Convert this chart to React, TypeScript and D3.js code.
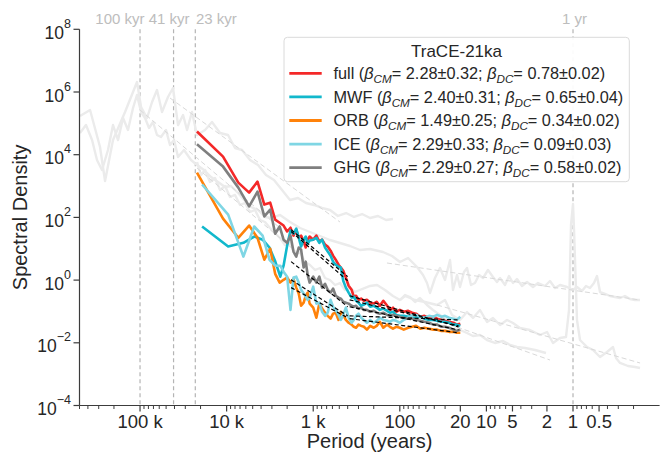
import React from "react";
import * as d3 from "d3";

// ---------- DATA ----------
// period grid (years) for the full / ORB / GHG TraCE runs
const periodsTraCE = [22000, 11000, 7330, 5500, 4400, 3670, 3140, 2750, 2440,
  2200, 2000, 1830, 1690, 1570, 1470, 1380, 1290, 1220, 1160, 1100, 1000, 920, 850, 790, 730, 680, 630, 590, 550, 510,
  480, 450, 420, 390, 360, 340, 320, 300, 280, 260, 240, 220, 200, 185, 170, 155, 140, 130, 120, 110, 100, 90, 80, 72,
  65, 58, 52, 46, 41, 37, 33, 30, 27, 24, 22, 20];
// period grid (years) for the MWF / ICE runs
const periodsMelt = [19200, 9600, 6400, 4800, 3840, 3200, 2740, 2400,
  2200, 2000, 1830, 1690, 1570, 1470, 1380, 1290, 1220, 1160, 1100, 1000, 920, 850, 790, 730, 680, 630, 590, 550, 510,
  480, 450, 420, 390, 360, 340, 320, 300, 280, 260, 240, 220, 200, 185, 170, 155, 140, 130, 120, 110, 100, 90, 80, 72,
  65, 58, 52, 46, 41, 37, 33, 30, 27, 24, 22, 20];

// log10 spectral density
const logFull = [4.74, 3.94, 3.11, 2.79, 3.14, 2.41, 2.47, 1.93, 1.83,
  1.74, 1.55, 1.67, 1.42, 1.61, 1.35, 1.42, 1.23, 1.04, 1.29, 1.39, 1.29, 1.42, 1.23, 1.29, 1.13, 1.07, 0.94, 0.78, 0.65,
  0.49, 0.40, 0.30, 0.08, -0.18, -0.31, -0.53, -0.50, -0.63, -0.59, -0.66, -0.63, -0.72, -0.75, -0.69, -0.82, -0.66,
  -0.82, -0.95, -0.88, -1.01, -0.95, -1.01, -0.98, -1.04, -1.07, -1.17, -1.14, -1.20, -1.17, -1.23, -1.27, -1.30, -1.33,
  -1.36, -1.42, -1.39];
const logMWF = [1.71, 1.07, 1.19, 1.39, 1.29, 1.04, 0.59, 0.11,
  0.46, 1.10, 1.58, 1.48, 1.64, 1.35, 1.07, 1.29, 1.39, 1.16, 1.26, 1.29, 1.35, 1.19, 1.29, 1.04, 0.91, 0.78, 0.59, 0.49,
  0.43, 0.40, -0.02, -0.24, -0.40, -0.56, -0.53, -0.66, -0.72, -0.82, -0.78, -0.72, -0.85, -0.82, -0.88, -0.95, -0.91,
  -0.98, -1.04, -1.01, -1.11, -1.14, -1.14, -1.17, -1.14, -1.20, -1.17, -1.23, -1.27, -1.27, -1.30, -1.33, -1.33, -1.36,
  -1.42, -1.42, -1.46];
const logORB = [3.43, 1.96, 1.35, 1.74, 1.35, 0.65, 1.00, 0.20, -0.08,
  0.01, 0.08, -0.08, 0.04, -0.24, -0.43, -0.82, -0.72, -0.50, -0.40, -0.75, -0.88, -1.20, -0.75, -0.91, -1.04, -1.14,
  -1.23, -1.07, -1.04, -1.27, -1.01, -1.11, -1.27, -1.36, -1.42, -1.49, -1.52, -1.42, -1.46, -1.49, -1.58, -1.46, -1.52,
  -1.46, -1.33, -1.52, -1.42, -1.49, -1.55, -1.49, -1.52, -1.58, -1.52, -1.49, -1.46, -1.55, -1.52, -1.55, -1.58, -1.58,
  -1.62, -1.62, -1.65, -1.65, -1.68, -1.68];
const logICE = [3.05, 2.09, 0.75, 1.71, 1.42, 0.65, 0.46, 0.46,
  0.27, 0.11, -0.95, 0.08, 0.11, -0.08, -0.31, -0.43, -0.53, -0.63, -0.56, -0.21, -0.75, -0.72, -1.01, -1.14, -1.04,
  -0.63, -0.85, -0.95, -1.11, -1.27, -1.11, -0.88, -1.20, -1.36, -1.27, -1.14, -1.07, -1.20, -1.27, -1.36, -1.27, -1.36,
  -1.30, -1.20, -1.27, -1.30, -1.33, -1.27, -1.30, -1.36, -1.27, -1.20, -1.14, -1.11, -1.17, -1.20, -1.14, -1.17, -1.11,
  -1.17, -1.14, -1.20, -1.23, -1.27, -1.17];
const logGHG = [4.33, 3.62, 2.95, 2.35, 2.82, 2.03, 2.25, 1.48, 1.71,
  1.29, 1.19, 1.42, 0.91, 0.75, 1.04, 0.97, 0.40, 0.59, 0.17, -0.08, 0.11, -0.08, 0.11, -0.24, -0.12, -0.31, -0.40,
  -0.27, -0.50, -0.56, -0.59, -0.69, -0.72, -0.75, -0.82, -0.85, -0.82, -0.91, -0.88, -0.95, -0.95, -1.01, -0.98, -1.04,
  -1.07, -1.04, -1.11, -1.14, -1.11, -1.14, -1.17, -1.20, -1.23, -1.23, -1.27, -1.30, -1.33, -1.36, -1.42, -1.42, -1.49,
  -1.49, -1.52, -1.58, -1.62, -1.58];

const seriesNames = ["full", "MWF", "ORB", "ICE", "GHG"];
const seriesColors = ["#f42828", "#12b8cc", "#ff820a", "#7fd6e4", "#7f7f7f"];
const betaCM = ["2.28±0.32", "2.40±0.31", "1.49±0.25", "2.29±0.33", "2.29±0.27"];
const betaDC = ["0.78±0.02", "0.65±0.04", "0.34±0.02", "0.09±0.03", "0.58±0.02"];

// power-law fits (period ranges in years, log10 density at the ends), series order as above
const fitCMPeriods = [1800, 400];
const fitDCPeriods = [380, 21];
const fitCMStart = [1.61, 1.55, -0.24, 0.01, 0.59];
const fitCMEnd = [0.11, -0.02, -1.20, -1.14, -0.85];
const fitDCStart = [-0.50, -0.63, -1.23, -1.14, -0.85];
const fitDCEnd = [-1.49, -1.46, -1.68, -1.27, -1.59];

// background (grey) spectra: log10 period, log10 density
const proxyALogP = [5.693, 5.577, 5.462, 5.404, 5.312, 5.173, 5.035, 4.988, 4.919, 4.861, 4.804, 4.746, 4.677, 4.619,
  4.561, 4.503, 4.457, 4.400, 4.342, 4.249, 4.169, 4.076, 3.984, 3.903, 3.822, 3.730, 3.637, 3.545, 3.453, 3.360, 3.268,
  3.176, 3.083, 2.991, 2.898, 2.806, 2.714, 2.621, 2.529, 2.436, 2.344, 2.252, 2.159, 2.079];
const proxyALogPSD = [5.234, 5.426, 4.246, 3.161, 4.469, 5.362, 6.319, 5.522, 5.171, 5.681, 6.064, 5.362, 5.841, 6.128,
  4.944, 5.266, 4.788, 5.362, 4.629, 4.788, 5.043, 4.692, 4.629, 4.214, 4.150, 3.831, 3.671, 3.352, 3.193, 2.874, 2.555,
  2.619, 2.459, 2.396, 2.300, 2.236, 2.045, 2.140, 2.013, 2.108, 1.982, 2.045, 1.917, 1.949];

const proxyBLogP = [5.693, 5.624, 5.554, 5.497, 5.439, 5.370, 5.312, 5.254, 5.196, 5.139, 5.081, 5.035, 4.988, 4.942,
  4.896, 4.850, 4.804, 4.758, 4.700, 4.654, 4.607, 4.561, 4.492, 4.411, 4.342, 4.261, 4.180, 4.099, 4.018, 3.949, 3.868,
  3.799, 3.718, 3.637, 3.557, 3.476, 3.383, 3.268, 3.152, 3.037, 2.921, 2.806, 2.691, 2.575, 2.460, 2.344, 2.194, 2.090,
  1.998, 1.905, 1.801, 1.732, 1.686, 1.651, 1.594, 1.536, 1.478, 1.420, 1.386, 1.339, 1.305, 1.259, 1.224, 1.178, 1.132,
  1.085, 1.039, 0.982, 0.924, 0.878, 0.843, 0.785, 0.739, 0.693, 0.647, 0.589, 0.531, 0.462, 0.404, 0.323, 0.266, 0.208,
  0.150, 0.069, 0.000, -0.046, -0.104, -0.150, -0.196, -0.242, -0.277, -0.312, -0.370, -0.427, -0.485, -0.543, -0.600,
  -0.658, -0.716, -0.774];
const proxyBLogPSD = [4.692, 4.947, 4.469, 3.831, 3.512, 4.150, 4.947, 4.469, 5.171, 4.788, 5.490, 5.904, 5.362, 5.171,
  4.852, 5.043, 4.629, 4.565, 4.788, 4.309, 4.469, 3.927, 4.150, 3.831, 3.671, 3.512, 3.289, 3.129, 2.970, 3.001, 2.778,
  2.555, 2.332, 2.236, 2.013, 1.981, 2.077, 1.853, 1.662, 1.534, 1.407, 1.279, 1.183, 1.088, 0.960, 0.992, 0.896, 0.769,
  0.577, 0.705, 0.418, 0.163, -0.093, -0.411, 0.067, 0.386, 0.003, 0.641, -0.316, 0.163, -0.220, 0.258, 0.386, -0.156,
  -0.093, 0.163, 0.067, 0.322, 0.099, -0.061, 0.067, -0.156, 0.131, -0.093, 0.035, -0.188, -0.061, -0.220, -0.093,
  -0.188, -0.029, -0.252, -0.156, -0.220, -0.316, -0.220, -0.348, -0.188, -0.252, -0.093, 0.131, -0.380, -0.443, -0.507,
  -0.539, -0.571, -0.507, -0.603, -0.635, -0.635];

const proxyCLogP = [4.342, 4.296, 4.249, 4.192, 4.134, 4.076, 4.018, 3.961, 3.903, 3.845, 3.788, 3.730, 3.672, 3.614,
  3.557, 3.499, 3.441, 3.383, 3.326, 3.268, 3.210, 3.152, 3.095, 3.037, 2.979, 2.921, 2.864, 2.806, 2.748, 2.691, 2.633,
  2.575, 2.517, 2.436, 2.344, 2.263, 2.171, 2.079, 1.998, 1.940, 1.882, 1.824, 1.767, 1.686, 1.617, 1.536, 1.455, 1.386,
  1.305, 1.224, 1.155, 1.074, 0.993, 0.901, 0.808, 0.727, 0.647, 0.554, 0.439, 0.312];
const proxyCLogPSD = [3.767, 3.352, 3.512, 3.129, 3.257, 2.874, 3.001, 2.651, 2.715, 2.396, 2.459, 2.172, 2.236, 1.917,
  1.853, 1.662, 1.502, 1.343, 1.120, 1.183, 0.801, 0.897, 0.577, 0.482, 0.322, 0.386, 0.067, 0.003, -0.156, -0.093,
  -0.316, -0.252, -0.380, -0.284, -0.188, -0.156, -0.316, -0.507, -0.635, -0.475, -0.539, -0.699, -0.571, -0.794, -0.954,
  -1.113, -1.273, -1.432, -1.592, -1.687, -1.783, -1.751, -1.911, -2.006, -1.943, -2.070, -2.134, -2.166, -2.230, -2.325];

const proxyDLogP = [1.998, 1.940, 1.824, 1.709, 1.570, 1.478, 1.397, 1.305, 1.224, 1.155, 1.074, 0.993, 0.924, 0.843,
  0.762, 0.693, 0.612, 0.497, 0.381, 0.300, 0.231, 0.150, 0.081, 0.046, 0.023, 0.000, -0.012, -0.046, -0.081, -0.162,
  -0.231, -0.312, -0.393, -0.462, -0.497, -0.543, -0.635, -0.716, -0.774];
const proxyDLogPSD = [-0.635, -0.507, -0.635, -0.699, -0.794, -0.635, -1.113, -1.273, -1.018, -1.209, -0.954, -1.337,
  -1.209, -1.432, -1.273, -1.369, -1.528, -1.592, -1.751, -1.656, -2.006, -1.847, -1.815, -0.954, 1.758, 2.427, 1.598,
  -1.273, -1.911, -2.134, -2.230, -2.453, -2.293, -2.134, -2.485, -2.644, -2.740, -2.772, -2.804];

// grey dashed fits on background spectra: [start, end] in log10 period / log10 density
const proxyFitLogP = [[2.148, -0.774], [1.570, -0.774], [1.339, 0.266], [4.654, 2.691], [5.0, 3.383], [4.342, 3.152]];
const proxyFitLogPSD = [[0.545, -0.635], [-0.794, -2.644], [-1.496, -2.549], [5.809, 1.853], [5.426, 1.662], [3.576, 0.801]];

const markerPeriods = [100000, 41000, 23000, 1];
const markerLabels = ["100 kyr", "41 kyr", "23 kyr", "1 yr"];

const xTickValues = [1e5, 1e4, 1e3, 100, 20, 10, 5, 2, 1, 0.5];
const xTickLabels = ["100 k", "10 k", "1 k", "100", "20", "10", "5", "2", "1", "0.5"];
const yTickExponents = [-4, -2, 0, 2, 4, 6, 8];

// ---------- CHART ----------
const FONT = "'Liberation Sans', Arial, Helvetica, sans-serif";

export default function App() {
  const W = 666, H = 454;
  const left = 79.5, right = 659.6, top = 29.3, bottom = 405.5;
  const x = d3.scaleLog().domain([5e5, 0.1]).range([left, right]);
  const y = d3.scaleLog().domain([1e-4, 1e8]).range([bottom, top]);
  const line = d3.line<[number, number]>().x((d) => x(d[0])).y((d) => y(d[1]));

  const fromGrid = (periods: number[], logs: number[]) =>
    logs.map((v, i) => [periods[i], Math.pow(10, v)] as [number, number]);
  const fromLog = (lp: number[], lv: number[]) =>
    lv.map((v, i) => [Math.pow(10, lp[i]), Math.pow(10, v)] as [number, number]);

  const seriesData = [
    fromGrid(periodsTraCE, logFull),
    fromGrid(periodsMelt, logMWF),
    fromGrid(periodsTraCE, logORB),
    fromGrid(periodsMelt, logICE),
    fromGrid(periodsTraCE, logGHG),
  ];
  const proxies = [
    fromLog(proxyALogP, proxyALogPSD),
    fromLog(proxyBLogP, proxyBLogPSD),
    fromLog(proxyCLogP, proxyCLogPSD),
    fromLog(proxyDLogP, proxyDLogPSD),
  ];

  // minor ticks on x
  const minor: number[] = [];
  for (let e = -1; e <= 5; e++) {
    for (let d = 1; d <= 9; d++) {
      const v = d * Math.pow(10, e);
      if (v > 0.1 && v <= 5e5 && !xTickValues.some((t) => Math.abs(t - v) / v < 1e-6)) minor.push(v);
    }
  }

  const axisColor = "#3c3c3c";
  const textColor = "#262626";

  return (
    <svg width={W} height={H} style={{ position: "absolute", left: 0, top: 0 }} fontFamily={FONT}>
      <rect x={0} y={0} width={W} height={H} fill="#ffffff" />

      {/* vertical marker lines */}
      {markerPeriods.map((p, i) => (
        <line key={"m" + i} x1={x(p)} x2={x(p)} y1={top} y2={bottom} stroke="#b4b4b4" strokeWidth={1.2} strokeDasharray="4,3" />
      ))}
      {markerLabels.map((t, i) => {
        const px = x(markerPeriods[i]);
        const anchor = i === 0 ? "end" : i === 2 ? "start" : "middle";
        const dx = i === 0 ? 4.5 : i === 1 ? -4.5 : i === 2 ? 0.7 : 1.5;
        return (
          <text key={"ml" + i} x={px + dx} y={24} fontSize={15} fill="#bdbdbd" textAnchor={anchor}>{t}</text>
        );
      })}

      {/* background spectra */}
      {proxies.map((pts, i) => (
        <path key={"p" + i} d={line(pts) || ""} fill="none" stroke="#ebebeb" strokeWidth={2.4} strokeLinejoin="round" />
      ))}
      {proxyFitLogP.map((lp, i) => (
        <path key={"pf" + i}
          d={line([[Math.pow(10, lp[0]), Math.pow(10, proxyFitLogPSD[i][0])], [Math.pow(10, lp[1]), Math.pow(10, proxyFitLogPSD[i][1])]]) || ""}
          fill="none" stroke="#d9d9d9" strokeWidth={1} strokeDasharray="5,3" />
      ))}

      {/* TraCE spectra */}
      {seriesData.map((pts, i) => (
        <path key={"s" + i} d={line(pts) || ""} fill="none" stroke={seriesColors[i]} strokeWidth={2.6} strokeLinejoin="round" />
      ))}

      {/* power-law fits */}
      {seriesNames.map((_, i) => (
        <g key={"f" + i}>
          <path d={line([[fitCMPeriods[0], Math.pow(10, fitCMStart[i])], [fitCMPeriods[1], Math.pow(10, fitCMEnd[i])]]) || ""}
            fill="none" stroke="#000" strokeWidth={1.2} strokeDasharray="4,2.5" />
          <path d={line([[fitDCPeriods[0], Math.pow(10, fitDCStart[i])], [fitDCPeriods[1], Math.pow(10, fitDCEnd[i])]]) || ""}
            fill="none" stroke="#000" strokeWidth={1.2} strokeDasharray="4,2.5" />
        </g>
      ))}

      {/* axes */}
      <line x1={left} x2={left} y1={top} y2={bottom} stroke={axisColor} strokeWidth={1.2} />
      <line x1={left} x2={right} y1={bottom} y2={bottom} stroke={axisColor} strokeWidth={1.2} />
      {yTickExponents.map((e) => {
        const ty = y(Math.pow(10, e));
        return (
          <g key={"yt" + e}>
            <line x1={left - 6} x2={left} y1={ty} y2={ty} stroke={axisColor} strokeWidth={1.2} />
            <text x={71} y={ty + 9.5} fontSize={17.5} fill={textColor} textAnchor="end">
              10<tspan fontSize={12.5} dy={-11}>{e < 0 ? "\u2212" + Math.abs(e) : String(e)}</tspan>
            </text>
          </g>
        );
      })}
      {minor.map((v, i) => (
        <line key={"xm" + i} x1={x(v)} x2={x(v)} y1={bottom} y2={bottom + 3.5} stroke={axisColor} strokeWidth={1} />
      ))}
      {xTickValues.map((v, i) => (
        <g key={"xt" + i}>
          <line x1={x(v)} x2={x(v)} y1={bottom} y2={bottom + 6} stroke={axisColor} strokeWidth={1.2} />
          <text x={x(v)} y={428} fontSize={18.5} fill={textColor} textAnchor="middle">{xTickLabels[i]}</text>
        </g>
      ))}
      <text x={(left + right) / 2} y={448} fontSize={20} fill={textColor} textAnchor="middle">Period (years)</text>
      <text transform={`translate(27,${(top + bottom) / 2}) rotate(-90)`} fontSize={20} fill={textColor} textAnchor="middle">Spectral Density</text>

      {/* legend */}
      <rect x={284} y={37.3} width={345.3} height={144.4} rx={3.5} fill="#ffffff" fillOpacity={0.92} stroke="#dadada" strokeWidth={1} />
      <text x={456.5} y={56.7} fontSize={17} fill={textColor} textAnchor="middle">TraCE-21ka</text>
      {seriesNames.map((n, i) => {
        const by = 79 + i * 23.6;
        return (
          <g key={"lg" + i}>
            <line x1={289.3} x2={321.7} y1={by - 5.7} y2={by - 5.7} stroke={seriesColors[i]} strokeWidth={2.8} />
            <text x={333.5} y={by} fontSize={16.3} fill={textColor}>
              {`${n} (`}
              <tspan fontStyle="italic">β</tspan>
              <tspan fontStyle="italic" fontSize={11.7} dy={4}>CM</tspan>
              <tspan dy={-4}>{`= ${betaCM[i]}; `}</tspan>
              <tspan fontStyle="italic">β</tspan>
              <tspan fontStyle="italic" fontSize={11.7} dy={4}>DC</tspan>
              <tspan dy={-4}>{`= ${betaDC[i]})`}</tspan>
            </text>
          </g>
        );
      })}
    </svg>
  );
}
